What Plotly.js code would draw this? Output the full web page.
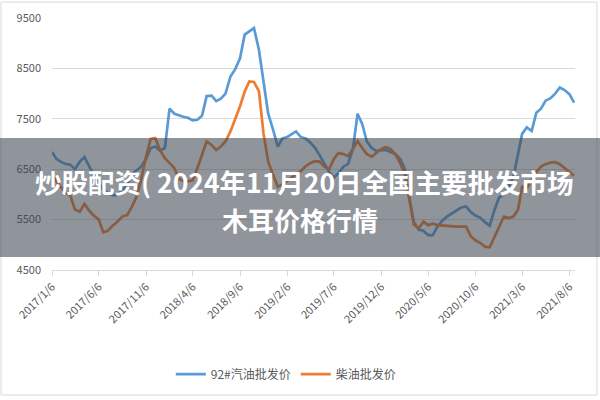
<!DOCTYPE html>
<html>
<head>
<meta charset="utf-8">
<script src="https://cdn.plot.ly/plotly-3.0.1.min.js"></script>
<style>
  html, body { margin: 0; padding: 0; background: #ffffff; }
  #chart { width: 600px; height: 400px; }
</style>
</head>
<body>
<div id="chart"></div>
<script>
// ---- data ----
const dates = [
  "2017-01-06","2017-01-21","2017-02-06","2017-02-21","2017-03-06","2017-03-21","2017-04-06","2017-04-21",
  "2017-05-06","2017-05-21","2017-06-06","2017-06-21","2017-07-06","2017-07-21","2017-08-06","2017-08-21",
  "2017-09-06","2017-09-21","2017-10-06","2017-10-21","2017-11-06","2017-11-21","2017-12-06","2017-12-21",
  "2018-01-06","2018-01-21","2018-02-06","2018-02-21","2018-03-06","2018-03-21","2018-04-06","2018-04-21",
  "2018-05-06","2018-05-21","2018-06-06","2018-06-21","2018-07-06","2018-07-21","2018-08-06","2018-08-21",
  "2018-09-06","2018-09-21","2018-10-06","2018-10-21","2018-11-06","2018-11-21","2018-12-06","2018-12-21",
  "2019-01-06","2019-01-21","2019-02-06","2019-02-21","2019-03-06","2019-03-21","2019-04-06","2019-04-21",
  "2019-05-06","2019-05-21","2019-06-06","2019-06-21","2019-07-06","2019-07-21","2019-08-06","2019-08-21",
  "2019-09-06","2019-09-21","2019-10-06","2019-10-21","2019-11-06","2019-11-21","2019-12-06","2019-12-21",
  "2020-01-06","2020-01-21","2020-02-06","2020-02-21","2020-03-06","2020-03-21","2020-04-06","2020-04-21",
  "2020-05-06","2020-05-21","2020-06-06","2020-06-21","2020-07-06","2020-07-21","2020-08-06","2020-08-21",
  "2020-09-06","2020-09-21","2020-10-06","2020-10-21","2020-11-06","2020-11-21","2020-12-06","2020-12-21",
  "2021-01-06","2021-01-21","2021-02-06","2021-02-21","2021-03-06","2021-03-21","2021-04-06","2021-04-21",
  "2021-05-06","2021-05-21","2021-06-06","2021-06-21","2021-07-06","2021-07-21","2021-08-06","2021-08-21"
];
const gasoline92 = [
  6843,6700,6640,6600,6590,6500,6650,6740, 6560,6380,6250,6080,6030,5980,5990,6080,
  6180,6400,6480,6550,6700,6920,6950,6870, 6920,7700,7600,7560,7540,7520,7470,7480,
  7560,7950,7960,7850,7900,8000,8340,8480, 8700,9170,9230,9300,8870,8250,7600,7300,
  6950,7110,7140,7200,7250,7140,7110,7030, 6930,6780,6600,6450,6330,6420,6550,6600,
  6900,7600,7400,7050,6920,6860,6880,6880, 6840,6800,6700,6500,5950,5450,5300,5280,
  5190,5190,5370,5480,5560,5620,5680,5740, 5760,5650,5580,5540,5450,5380,5680,5930,
  6000,6150,6350,6800,7200,7330,7260,7620, 7700,7860,7910,8000,8120,8070,7990,7820
];
const diesel = [
  6400,6250,6130,6020,5980,5700,5660,5810, 5680,5580,5500,5250,5280,5380,5460,5560,
  5590,5750,5950,6280,6750,7100,7120,6880, 6720,6620,6520,6300,6270,6260,6280,6520,
  6780,7050,6980,6880,6950,7050,7250,7480, 7750,8040,8240,8230,8050,7200,6650,6400,
  6150,6200,6270,6330,6400,6460,6560,6620, 6660,6650,6550,6500,6700,6820,6800,6760,
  6900,7060,6920,6800,6750,6820,6900,6940, 6900,6800,6620,6400,5900,5400,5330,5460,
  5390,5420,5390,5380,5370,5360,5360,5360, 5360,5170,5090,5040,4960,4950,5150,5330,
  5560,5530,5560,5700,6150,6120,6280,6450, 6550,6600,6630,6640,6600,6520,6450,6370
];
const tickDates = ["2017-01-06","2017-06-06","2017-11-06","2018-04-06","2018-09-06","2019-02-06",
                   "2019-07-06","2019-12-06","2020-05-06","2020-10-06","2021-03-06","2021-08-06"];
const tickLabels = ["2017/1/6","2017/6/6","2017/11/6","2018/4/6","2018/9/6","2019/2/6",
                    "2019/7/6","2019/12/6","2020/5/6","2020/10/6","2021/3/6","2021/8/6"];
const seriesNames = ["92#汽油批发价", "柴油批发价"];
const bannerLines = ["炒股配资( 2024年11月20日全国主要批发市场", "木耳价格行情"];

const FONT = "Noto Sans CJK SC, Noto Sans, sans-serif";

const traces = [
  { x: dates, y: gasoline92, name: seriesNames[0], type: "scatter", mode: "lines",
    line: { color: "#5b9bd5", width: 2.7 } },
  { x: dates, y: diesel, name: seriesNames[1], type: "scatter", mode: "lines",
    line: { color: "#ed7d31", width: 2.7 } }
];

const layout = {
  width: 600, height: 400,
  margin: { l: 52, r: 25, t: 18, b: 128 },
  paper_bgcolor: "#ffffff", plot_bgcolor: "#ffffff",
  font: { family: FONT, color: "#595959", size: 11 },
  showlegend: true,
  legend: { orientation: "h", x: 0.447, xanchor: "center", y: -0.413, yanchor: "middle",
            font: { size: 12, color: "#595959" }, itemwidth: 30, bgcolor: "rgba(0,0,0,0)" },
  xaxis: {
    type: "date", range: ["2017-01-06", "2021-08-24"],
    tickmode: "array", tickvals: tickDates, ticktext: tickLabels, tickangle: -45,
    showgrid: false, showline: true, linecolor: "#d9d9d9", linewidth: 1,
    ticks: "outside", ticklen: 5, tickcolor: "#d9d9d9",
    tickfont: { size: 11, color: "#595959" }, zeroline: false, fixedrange: true
  },
  yaxis: {
    range: [4500, 9500], tickmode: "linear", tick0: 4500, dtick: 1000,
    showgrid: true, gridcolor: "#d9d9d9", gridwidth: 1, zeroline: false, showline: false,
    ticks: "", ticklabelstandoff: 10, tickfont: { size: 11, color: "#595959" }, fixedrange: true
  },
  shapes: [
    { type: "rect", xref: "paper", yref: "paper", layer: "above",
      x0: -0.0975, x1: 1.042, y0: -0.496, y1: 1.063,
      line: { color: "#d9d9d9", width: 1 }, fillcolor: "rgba(0,0,0,0)" },
    { type: "rect", xref: "paper", yref: "paper", layer: "above",
      x0: -0.11, x1: 1.06, y0: 0.0512, y1: 0.5236,
      line: { width: 0 }, fillcolor: "rgba(60,68,80,0.57)" }
  ],
  annotations: [
    { xref: "paper", yref: "paper", x: 0.483, y: 0.350, xanchor: "center", yanchor: "middle",
      text: bannerLines[0], showarrow: false,
      font: { family: FONT, size: 26.5, color: "#ffffff", weight: "bold" } },
    { xref: "paper", yref: "paper", x: 0.474, y: 0.199, xanchor: "center", yanchor: "middle",
      text: bannerLines[1], showarrow: false,
      font: { family: FONT, size: 26, color: "#ffffff", weight: "bold" } }
  ]
};

Plotly.newPlot("chart", traces, layout, { staticPlot: true, displayModeBar: false });
</script>
</body>
</html>
